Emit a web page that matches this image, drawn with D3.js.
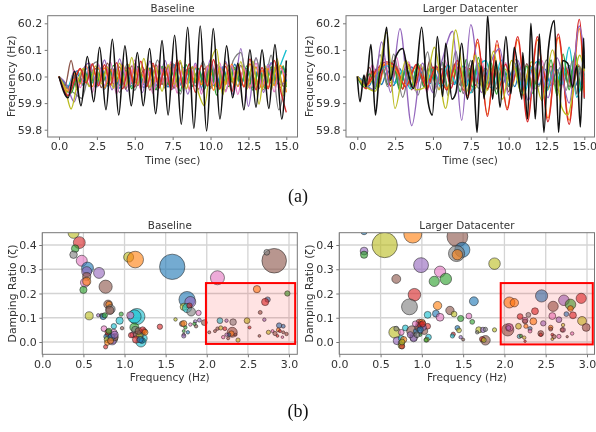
<!DOCTYPE html>
<html>
<head>
<meta charset="utf-8">
<script src="https://cdn.jsdelivr.net/npm/d3@7"></script>
<style>
  html, body { margin: 0; padding: 0; background: #fff; }
  svg { display: block; filter: blur(0.55px); }
  text { font-family: "DejaVu Sans", sans-serif; fill: #333; }
</style>
</head>
<body>
<script>
const tab10 = ['#1f77b4', '#ff7f0e', '#2ca02c', '#d62728', '#9467bd', '#8c564b', '#e377c2', '#7f7f7f', '#bcbd22', '#17becf'];

// time tick labels / shared sample times (sec)
const timeTicks = [0, 2.5, 5, 7.5, 10, 12.5, 15];
const freqTicks = [59.8, 59.9, 60, 60.1, 60.2];
const modeFreqTicks = [0, 0.5, 1, 1.5, 2, 2.5, 3];
const dampTicks = [0, 0.1, 0.2, 0.3, 0.4];

const gridA = [0, .4, .8, 1.2, 1.6, 2, 2.4, 2.8, 3.2, 3.6, 4, 4.4, 4.8, 5.2, 5.6, 6, 6.4, 6.8, 7.2, 7.6, 8, 8.4, 8.8, 9.2, 9.6, 10, 10.4, 10.8, 11.2, 11.6, 12, 12.4, 12.8, 13.2, 13.6, 14, 14.4, 14.8, 15];
const gridB = [0, .6, 1, 1.4, 1.8, 2.2, 2.6, 3, 3.4, 3.8, 4.2, 4.6, 5, 5.4, 5.8, 6.2, 6.6, 7, 7.4, 7.8, 8.2, 8.6, 9, 9.4, 9.8, 10.2, 10.6, 11, 11.4, 11.8, 12.2, 12.6, 13, 13.4, 13.8, 14.2, 14.6, 15];
const gridC = [0, .5, 1, 1.5, 2, 2.5, 3, 3.5, 4, 4.5, 5, 5.5, 6, 6.5, 7, 7.5, 8, 8.5, 9, 9.5, 10, 10.5, 11, 11.5, 12, 12.5, 13, 13.5, 14, 14.5, 15];

// frequency deviations in mHz around 60 Hz
const baselineBlue = [0, -42, -30, 22, -34, 38, -26, 30, -36, 28, -32, 34, -26, 38, -30, 24, -34, 30, -28, 36, -32, 26, -38, 30, -24, 34, -30, 36, -26, 28, -34, 30, -24, 32, -36, 28, -22, 34, -18];
const baselineOrange = [0, -55, 12, -28, 40, -38, 32, -42, 26, -20, 44, -36, 30, -44, 38, -28, 42, -34, 48, -40, 30, -46, 36, -30, 40, -52, 34, -30, 46, -38, 28, -42, 36, -48, 30, -34, 42, -60];
const baselineGreen = [0, -50, -62, -5, -30, 25, -40, 20, -28, 42, -35, 24, -46, 36, -22, 30, -50, 38, -30, 22, -55, 44, -36, 30, -48, 50, -70, 26, -38, 34, -30, 40, -52, 28, -44, 36, -28, 40, -40];
const baselineRed = [0, -72, -20, 30, -25, 48, -35, 44, -30, 52, -46, 34, -40, 58, -38, 50, -44, 36, -50, 62, -42, 48, -60, 42, -36, 64, -48, 38, -58, 44, -40, 66, -50, 34, -46, 60, -48, -135];
const baselinePurple = [0, -30, -95, 15, 50, -40, 62, -50, 66, -56, 48, -60, 58, -52, 60, -48, 52, -66, 50, -58, 64, -44, 56, -70, 105, -112, 70, -60, 50, -30, -20];
const baselineBrown = [0, -34, 60, -52, 28, -36, 30, -42, 50, -28, 36, -48, 40, -34, 28, -52, 44, -30, 38, -44, 52, -26, 34, -48, 30, -40, 46, -52, 24, -36, 42, -30, 38, -46, 32, -26, 44, -38, 10];
const baselinePink = [0, -68, 24, -42, 36, -60, 46, -32, 54, -66, 40, -44, 62, -50, 34, -64, 48, -38, 56, -62, 30, -52, 44, -66, 38, -30, 52, -58, 42, -68, 34, -46, 50, -36, 44, -58, 30, -10];
const baselineGray = [0, -40, -62, -82, 20, 55, -48, 30, -60, 48, -52, 36, -40, 62, -44, 50, -66, 30, -36, 58, -46, 34, -52, 60, 90, -40, 70, -50, 80, -125, 30];
const baselineOlive = [0, -45, -122, -30, 30, -38, 40, -28, 36, -44, 50, -36, 72, -30, 68, -40, 34, -56, 44, -30, 60, -46, 38, -60, -110, 50, 102, -70, 42, -36, 56, -48, 58, -104, 40, -50, 66, -72, -20];
const baselineCyan = [0, -36, 16, -20, 30, -24, 28, -36, 22, -30, 36, -26, 32, -40, 24, -28, 40, -32, 26, -38, 34, -24, 30, -42, 28, -34, 38, -22, 30, -36, 26, -28, 36, -40, 46, -30, 40, 100];
const baselineBlue2 = [0, -25, -48, 8, -18, 18, -32, 34, -20, 26, -44, 20, -36, 28, -42, 32, -20, 24, -40, 44, -26, 18, -34, 28, -46, 22, -38, 30, -24, 46, -30, 22, -42, 26, -34, 52, -24, 30, -30];
const baselineOrange2 = [0, -48, -8, 26, -16, 24, -12, 32, -36, 20, -30, 44, -24, 16, -38, 42, -22, 18, -34, 50, -28, 32, -22, 40, -34, 26, -44, 50, -20, 28, -36, 48, -28, 22, -40, 34, -42, 22];
const baselineBlack = [0, -80, 20, -110, 75, -95, 110, -125, 140, -145, 115, -110, 90, -110, 105, -140, 135, -145, 155, -180, 185, -195, 190, -205, 180, -160, 115, -80, 50, -125, 100, -115, 100, -120, 120, -160, 60];
const baselineBlackTimes = [0, .6, 1.03, 1.45, 1.87, 2.29, 2.68, 3.1, 3.52, 3.94, 4.35, 4.77, 5.17, 5.56, 5.98, 6.38, 6.8, 7.2, 7.63, 8.07, 8.49, 8.9, 9.32, 9.74, 10.18, 10.62, 11.06, 11.46, 11.8, 12.2, 12.6, 13, 13.4, 13.85, 14.25, 14.7, 15];

const largerBlue = [0, -24, -34, 28, -30, 22, -34, 30, -26, 36, -22, 30, -28, 34, -36, 24, -30, 28, -36, 32, -26, 30, -42, 34, -28, 24, -38, 30, -26, 40, -32, 28, -34, 26, -30, 42, -36, 26, 5];
const largerGreen = [0, -38, 10, -46, 52, -30, 42, -52, 26, -34, 48, -40, 36, -30, 54, -46, 30, -58, 64, -40, 72, -50, 60, -66, 44, -38, 52, -60, 40, -64, 58, -44, 62, -72, 84, -50, 90, -56, 10];
const largerRed2 = [0, -46, 22, -30, 44, -36, 30, -48, 46, -38, 32, -50, 36, -28, 40, -44, 34, -52, 30, -34, 42, -46, 28, -38, 46, -30, 34, -50, 42, -28, 36, -44, 48, -32, 30, -46, 38, -24];
const largerBrown = [0, -30, 34, -40, 54, -28, 60, -44, 36, -50, 48, -36, 62, -40, 30, -52, 46, -34, 38, -60, 50, -38, 34, -46, 42, -58, 36, -28, 48, -44, 56, -36, 40, -52, 32, -38, 46, -30, -5];
const largerPink = [0, -32, 44, -24, 68, -38, 72, -46, 56, -52, 40, -60, 34, -48, 60, -42, 38, -62, 44, -34, 66, -50, 30, -44, 52, -36, 40, -56, 34, -46, 60, -30, 42, -58, 36, -26, 44, -42];
const largerGray = [0, -25, -50, 82, -38, 84, -78, 30, -70, 92, -78, 50, -72, 96, -64, 60, -44, 30, -56, 40, -36, 66, -48, 28, -38, 62, -30, 34, -52, 58, -66, 40, -30, 46, -28, 80, -85];
const largerGrayTimes = [0, .5, 1, 1.5, 2, 2.4, 3, 3.5, 4, 4.65, 5.1, 5.6, 6, 6.5, 7, 7.5, 8, 8.5, 9, 9.5, 10, 10.5, 11, 11.5, 12, 12.5, 13, 13.4, 13.8, 14.2, 14.5, 14.7, 14.85, 14.9, 14.95, 14.98, 15];
const largerOlive2 = [0, -35, 18, -42, 36, -24, 40, -46, 32, -26, 44, -38, 30, -50, 38, -28, 46, -36, 24, -44, 34, -52, 42, -30, 28, -40, 36, -46, 44, -24, 38, -50, 30, -36, 26, -44, 40, 8];
const largerCyan = [0, -20, -50, 18, 40, -26, 22, -46, 34, -30, 26, -38, 44, -28, 40, -62, 36, 60, -48, 62, -30, 40, -70, 32, 58, -55, 36, -30, 110, -78, 64];
const largerRedTimes = [0, .6, 1.2, 1.9, 2.5, 3.2, 3.9, 4.6, 5.2, 5.9, 6.6, 7.3, 7.95, 8.6, 9.23, 9.9, 10.6, 11.25, 11.9, 12.6, 13.28, 14, 14.67, 15];
const largerRed = [0, -30, 20, 55, 40, -40, 45, -45, 40, -50, 60, -80, 140, -150, 135, -125, 150, -170, 150, -170, 160, -180, 215, -80];
const largerOrange = [0, -36, 12, 48, 28, -34, 38, -38, 30, -44, 50, -72, 128, -142, 120, -118, 138, -158, 138, -156, 146, -165, 180, -60];
const largerPurpleTimes = [0, .5, 1.1, 1.6, 2.2, 2.82, 3.6, 4.3, 5, 5.6, 6.3, 6.9, 7.5, 8.2, 8.8, 9.4, 10, 10.6, 11.3, 12, 12.6, 13.2, 14, 14.67, 15];
const largerPurple = [0, -30, -50, 130, -60, 180, -185, 50, -60, 60, 170, -165, 195, -60, 50, 105, -70, 60, -90, 65, -80, 70, -100, 190, 85];
const largerOliveTimes = [0, .6, 1.2, 1.94, 2.49, 3.2, 3.9, 4.5, 5.09, 5.84, 6.5, 7.2, 7.8, 8.4, 9, 9.6, 10.2, 10.9, 11.5, 12.2, 12.9, 13.5, 13.9, 14.7, 15];
const largerOlive = [0, -40, -55, 165, -120, 60, -50, -40, 110, -120, 175, -60, 80, -70, 95, -85, 60, -70, 55, -90, 100, -115, -145, 80, 20];
const largerBlack = [0, -95, 5, -40, 120, -145, 0, 40, 185, -15, 75, 105, 20, -45, 0, 185, -85, -145, 150, -75, 125, -85, -60, 125, -85, 60, -210, 40, -85, 230, -85, 60, -115, 150, -65, 110, -85, 90, -160, 200, -160, 160, -210, 100, 210, -210, 60, 50, -40, 40, -190, 145, 30];
const largerBlackTimes = [0, .18, .44, .57, .9, 1.2, 1.45, 1.63, 1.94, 2.18, 2.55, 3, 3.33, 3.7, 3.88, 4.25, 4.65, 4.96, 5.29, 5.64, 5.84, 6.26, 6.52, 6.9, 7.27, 7.62, 7.91, 8.17, 8.39, 8.61, 8.94, 9.16, 9.43, 9.82, 10.15, 10.37, 10.88, 10.93, 11.25, 11.47, 11.76, 12.03, 12.33, 12.62, 13.02, 13.3, 13.57, 13.9, 14.23, 14.5, 14.74, 14.96, 15];

// oscillation modes of the Baseline panel
const baselineModeFreq = [
  .38, .45, .40, .38, .48, .55, .54, .54, .52, .54,
  .50, .69, .77, .57, 1.05, 1.13, 1.58, 2.13, 2.82, 2.73,
  1.76, 1.80, 1.72, 1.76, 1.79, 1.81, 1.90, 1.15, 1.12, 1.07,
  .80, .81, .83, .82, .96, .94, .87, .97, .68, .72,
  .74, .76, .75, .87, .80, .78, .79, .79, .77, .86,
  .85, .88, 1.22, 1.20, 1.21, 1.12, 1.13, 1.10, 1.15, 1.20,
  1.24, 1.18, 1.08, 1.43, 1.62, 1.70, 1.72, 1.74, 1.72, 1.77,
  1.72, 1.72, 1.80, 1.87, 1.86, 1.85, 1.91, 1.97, 2.16, 2.24,
  2.32, 2.49, 2.61, 2.98, 2.74, 2.71, 2.65, 2.70, 2.52, 2.31,
  2.30, 2.27, 2.35, 2.38, 2.13, 2.10, 2.17, 2.03, 2.22, 2.24,
  2.20, 2.26, 2.75, 2.64, 2.88, 2.93, 2.87, 2.89, 2.80, 2.83,
  2.86, 2.92, 2.97, 2.93,
  .80, .84, .88, .83, .81, 1.17, 1.22, 1.25, 1.14, 1.19
];
const baselineModeDamp = [
  .45, .41, .385, .36, .335, .305, .29, .27, .245, .25,
  .215, .285, .228, .108, .35, .34, .31, .265, .335, .37,
  .175, .165, .145, .14, .15, .125, .12, .105, .105, .11,
  .155, .155, .135, .13, .115, .088, .065, .057, .11, .11,
  .105, .11, .055, .04, .03, .022, .01, -.003, -.02, .012,
  .005, .02, .015, 0, .005, .06, .05, .03, .03, .035,
  .045, .025, .028, .063, .093, .075, .076, .06, .045, .04,
  .03, .025, .072, .065, .085, .075, .09, .08, .088, .088,
  .082, .088, .218, .2, .175, .165, .122, .092, .06, .04,
  .035, .03, .03, .008, .055, .045, .058, .04, .055, .03,
  .02, .015, .04, .025, .068, .065, .05, .045, .045, .035,
  .025, .02, .033, .04,
  .04, .02, .03, .005, .045, .045, .05, .04, .01, .01
];
const baselineModeSize = [
  25, 30, 10, 10, 25, 30, 20, 12, 16, 12,
  9, 25, 38, 12, 20, 64, 160, 44, 150, 5,
  60, 25, 9, 16, 4, 14, 4, 60, 40, 9,
  14, 6, 16, 12, 2, 9, 4, 1, 1, 1.5,
  6, 4, 5, 6, 4, 4, 6, 4, 2, 16,
  12, 9, 16, 20, 4, 16, 9, 4, 9, 9,
  4, 6, 4, 4, 1, 4, 6, 1, .6, 1,
  .6, 2, 1, 1, 1, 1, 1.5, 5, 5, 1,
  7, 5, 9, 4, 4, 9, 1.5, 1, .6, 20,
  4, 1.5, .6, 2, 1, .6, 2, .6, 1.5, 1,
  1, .6, 2, .4, 4, 1.5, 1.5, .6, .6, 2,
  .4, .3, 1, .6,
  6, 8, 9, 6, 5, 8, 6, 5, 9, 6
];
const baselineModeHue = [
  8, 3, 2, 7, 6, 0, 4, 5, 6, 1,
  2, 4, 5, 8, 8, 1, 0, 6, 5, 7,
  0, 4, 8, 9, 3, 7, 6, 9, 9, 6,
  5, 1, 7, 5, 2, 9, 9, 5, 4, 5,
  0, 2, 6, 6, 5, 0, 8, 1, 3, 7,
  4, 5, 9, 9, 0, 2, 7, 6, 5, 7,
  3, 8, 3, 3, 8, 5, 1, 2, 2, 0,
  5, 4, 6, 5, 4, 2, 4, 5, 9, 4,
  7, 8, 1, 2, 0, 3, 5, 4, 3, 5,
  1, 0, 5, 8, 5, 5, 8, 5, 3, 4,
  6, 5, 8, 5, 0, 0, 1, 3, 6, 5,
  3, 6, 5, 5,
  3, 0, 4, 1, 2, 5, 3, 1, 3, 0
];

// oscillation modes of the Larger Datacenter panel
const largerModeFreq = [
  .30, .55, .89, 1.43, 1.49, 1.42, 1.43, .30, .30, .99,
  1.22, 1.29, 1.15, .69, 1.88, .91, .85, 1.19, 1.63, 1.07,
  1.17, 1.22, 1.34, 1.39, 1.47, 1.57, 1.61, 1.43, 1.45, 1.38,
  1.37, 1.47, 1.50, 1.69, 1.67, 1.74, 1.77, 1.88, 1.77, 1.73,
  1.75, .67, .69, .70, .75, .80, .75, .75, .75, .76,
  .88, .90, .90, .96, .97, 1.00, .97, .93, .98, 1.03,
  1.07, 1.08, 1.06, 1.05, .98, 2.06, 2.12, 2.45, 2.93, 2.72,
  2.80, 2.59, 2.80, 2.37, 2.83, 2.19, 2.75, 2.58, 2.66, 2.94,
  2.99, 2.35, 2.47, 2.25, 2.25, 2.29, 2.04, 2.06, 2.05, 2.17,
  2.26, 2.31, 2.31, 2.44, 2.56, 2.56, 2.18, 2.20, 2.24, 2.25,
  2.58, 2.60, 2.66, 2.71, 2.70, 2.71, 2.58, 2.76, 2.82, 2.44,
  .95, .99, 1.02, .92, .78, .76, .98, 1.01, .94, .86
];
const largerModeDamp = [
  .455, .40, .445, .435, .38, .365, .36, .375, .36, .317,
  .29, .26, .25, .26, .323, .195, .145, .15, .168, .112,
  .117, .102, .13, .115, .097, .107, .083, .058, .048, .032,
  .025, .02, .01, .05, .04, .05, .052, .05, .007, .012,
  .008, .04, .055, .005, .04, .058, .015, -.005, -.015, -.018,
  .045, .02, .015, .07, .08, .08, .065, .045, .04, .045,
  .065, .02, .01, .008, .03, .163, .162, .19, .18, .172,
  .155, .147, .138, .127, .11, .105, .115, .107, .092, .087,
  .06, .085, .077, .09, .085, .112, .05, .06, .058, .065,
  .065, .055, .045, .035, .06, .053, .023, .025, .018, .003,
  .03, .022, .023, .05, .05, .07, .012, .022, .035, .03,
  .06, .07, .06, .075, .01, 0, .05, .075, .03, .03
];
const largerModeSize = [
  6, 160, 76, 105, 52, 60, 22, 11, 9, 50,
  26, 28, 21, 15, 28, 34, 58, 13, 15, 8,
  8, 11, 13, 5, 6, 5, 3, 3, 3, 2,
  2, 1, .6, 6, 1, 4, 2, 2, 18, 4,
  3, 28, 3, 11, 5, 5, 5, 6, 6, 4,
  23, 11, 8, 5, 8, 8, 4, 4, 2, 8,
  5, 5, 3, 2, 1, 25, 13, 32, 21, 23,
  23, 21, 5, 8, 8, 5, 3, 8, 5, 15,
  11, 8, 4, 5, 3, 3, 32, 11, 3, 5,
  2, 2, 1.5, 5, 2.5, 1.5, 2, 1, 1, .2,
  .5, 2, 2, 3, 2, 1, .5, .2, 1, 1,
  6, 8, 5, 5, 6, 5, 6, 6, 5, 6
];
const largerModeHue = [
  0, 8, 1, 5, 0, 7, 1, 4, 2, 4,
  6, 2, 2, 5, 8, 3, 7, 1, 0, 9,
  0, 6, 5, 8, 2, 6, 2, 0, 8, 3,
  9, 4, 5, 8, 7, 4, 7, 8, 5, 3,
  8, 8, 7, 4, 6, 9, 9, 7, 8, 3,
  5, 7, 4, 3, 3, 1, 4, 0, 6, 5,
  3, 9, 8, 2, 2, 1, 1, 0, 3, 4,
  2, 5, 1, 3, 3, 3, 0, 6, 4, 8,
  5, 1, 4, 6, 5, 7, 5, 6, 4, 8,
  1, 0, 6, 5, 1, 5, 9, 2, 8, 3,
  3, 5, 6, 6, 5, 8, 8, 5, 6, 3,
  5, 3, 4, 6, 1, 8, 0, 3, 7, 4
];

const baselineTraces = [
  [gridB, baselineCyan], [gridA, baselineBlue], [gridA, baselineBlue2], [gridB, baselineOrange2],
  [gridC, baselinePurple], [gridC, baselineGray], [gridA, baselineBrown], [gridA, baselineGreen],
  [gridB, baselineOrange], [gridB, baselinePink], [gridA, baselineOlive], [gridB, baselineRed],
];
const baselineTraceHues = [9, 0, 0, 1, 4, 7, 5, 2, 1, 6, 8, 3];

const largerTraces = [
  [gridA, largerBlue], [gridB, largerPink], [gridA, largerBrown], [gridB, largerOlive2],
  [gridB, largerRed2], [gridC, largerCyan], [gridA, largerGreen], [largerGrayTimes, largerGray],
  [largerRedTimes, largerOrange], [largerRedTimes, largerRed], [largerPurpleTimes, largerPurple], [largerOliveTimes, largerOlive],
];
const largerTraceHues = [0, 6, 5, 8, 3, 9, 2, 7, 1, 3, 4, 8];

const width = 596;
const height = 432;

const svg = d3.select('body').append('svg')
  .attr('width', width)
  .attr('height', height);

const drawFrame = (g, box, x, y, xTicks, yTicks, xLabel, yLabel, title, withGrid, labelX) => {
  if (withGrid) {
    g.append('g').selectAll('line').data(xTicks).enter().append('line')
      .attr('x1', (d) => x(d)).attr('x2', (d) => x(d))
      .attr('y1', box.top).attr('y2', box.bottom)
      .style('stroke', '#d4d4d4').style('stroke-width', 1.3);
    g.append('g').selectAll('line').data(yTicks).enter().append('line')
      .attr('x1', box.left).attr('x2', box.right)
      .attr('y1', (d) => y(d)).attr('y2', (d) => y(d))
      .style('stroke', '#d4d4d4').style('stroke-width', 1.3);
  }

  const xAxis = d3.axisBottom(x).tickValues(xTicks).tickFormat(d3.format('.1f')).tickSize(3).tickPadding(2.5);
  const yAxis = d3.axisLeft(y).tickValues(yTicks).tickFormat(d3.format('.1f')).tickSize(3).tickPadding(2.5);

  const xg = g.append('g').attr('transform', `translate(0,${box.bottom})`).call(xAxis);
  const yg = g.append('g').attr('transform', `translate(${box.left},0)`).call(yAxis);
  [xg, yg].forEach((a) => {
    a.select('.domain').remove();
    a.selectAll('line').style('stroke', '#555').style('stroke-width', 0.8);
    a.selectAll('text').style('font-size', '11px').style('font-family', '"DejaVu Sans", sans-serif').style('fill', '#333');
  });

  g.append('text')
    .attr('x', (box.left + box.right) / 2).attr('y', box.top - 4)
    .style('text-anchor', 'middle').style('font-size', '10.4px')
    .text(title);
  g.append('text')
    .attr('x', (box.left + box.right) / 2).attr('y', box.bottom + 27)
    .style('text-anchor', 'middle').style('font-size', '10.6px')
    .text(xLabel);
  g.append('text')
    .attr('transform', `translate(${labelX},${(box.top + box.bottom) / 2}) rotate(-90)`)
    .attr('dy', '.35em')
    .style('text-anchor', 'middle').style('font-size', '10.8px')
    .text(yLabel);
};

const drawSpines = (g, box) => {
  g.append('rect')
    .attr('x', box.left).attr('y', box.top)
    .attr('width', box.right - box.left).attr('height', box.bottom - box.top)
    .style('fill', 'none').style('stroke', '#777').style('stroke-width', 1);
};

const drawTracePanel = (id, box, xZero, xEnd, traces, hues, blackTimes, blackValues, title, labelX) => {
  const pxPerSec = (xEnd - xZero) / 15;
  const x = d3.scaleLinear().domain([(box.left - xZero) / pxPerSec, (box.right - xZero) / pxPerSec]).range([box.left, box.right]);
  const y = d3.scaleLinear().domain([59.8, 60.2]).range([129.7, 23.3]);
  const g = svg.append('g');

  drawFrame(g, box, x, y, timeTicks, freqTicks, 'Time (sec)', 'Frequency (Hz)', title, false, labelX);

  g.append('clipPath').attr('id', id).append('rect')
    .attr('x', box.left).attr('y', box.top)
    .attr('width', box.right - box.left).attr('height', box.bottom - box.top);

  const line = d3.line()
    .x((d) => x(d[0]))
    .y((d) => y(60 + d[1] / 1000))
    .curve(d3.curveMonotoneX);

  const plot = g.append('g').attr('clip-path', `url(#${id})`);
  plot.selectAll('path.trace')
    .data(traces)
    .enter().append('path')
    .attr('class', 'trace')
    .attr('d', (d) => line(d3.zip(d[0], d[1])))
    .style('fill', 'none')
    .style('stroke', (d, i) => tab10[hues[i]])
    .style('stroke-width', 1.35);
  plot.append('path')
    .attr('d', line(d3.zip(blackTimes, blackValues)))
    .style('fill', 'none')
    .style('stroke', '#111')
    .style('stroke-width', 1.6);

  drawSpines(g, box);
};

const drawModePanel = (id, box, xThree, freqs, damps, sizes, hues, region, title, labelX) => {
  const pxPerHz = (xThree - box.left) / 3;
  const x = d3.scaleLinear().domain([0, (box.right - box.left) / pxPerHz]).range([box.left, box.right]);
  const y = d3.scaleLinear().domain([0, 0.4]).range([342, 245]);
  const r = d3.scaleSqrt().domain([0, 169]).range([0.8, 13]);
  const g = svg.append('g');

  drawFrame(g, box, x, y, modeFreqTicks, dampTicks, 'Frequency (Hz)', 'Damping Ratio (ζ)', title, true, labelX);

  g.append('clipPath').attr('id', id).append('rect')
    .attr('x', box.left).attr('y', box.top)
    .attr('width', box.right - box.left).attr('height', box.bottom - box.top);

  g.append('g').attr('clip-path', `url(#${id})`)
    .selectAll('circle')
    .data(freqs)
    .enter().append('circle')
    .attr('cx', (d) => x(d))
    .attr('cy', (d, i) => y(damps[i]))
    .attr('r', (d, i) => r(sizes[i]))
    .style('fill', (d, i) => tab10[hues[i]])
    .style('fill-opacity', 0.62)
    .style('stroke', '#222')
    .style('stroke-opacity', 0.6)
    .style('stroke-width', 0.9);

  g.append('rect')
    .attr('x', x(region[0])).attr('y', y(region[3]))
    .attr('width', x(region[1]) - x(region[0]))
    .attr('height', y(region[2]) - y(region[3]))
    .style('fill', 'rgba(255,0,0,0.11)')
    .style('stroke', '#f00')
    .style('stroke-width', 2);

  drawSpines(g, box);
};

const baselineRegion = [1.99, 3.075, -0.008, 0.243];
const largerRegion = [1.955, 3.07, -0.01, 0.243];

drawTracePanel('clip-a1', { left: 47.7, right: 297.5, top: 15.7, bottom: 137 }, 59, 286.3, baselineTraces, baselineTraceHues, baselineBlackTimes, baselineBlack, 'Baseline', 11);
drawTracePanel('clip-a2', { left: 346, right: 594.5, top: 15.7, bottom: 137 }, 357.3, 584.3, largerTraces, largerTraceHues, largerBlackTimes, largerBlack, 'Larger Datacenter', 309);
drawModePanel('clip-b1', { left: 42.3, right: 297.3, top: 232.7, bottom: 354.3 }, 289, baselineModeFreq, baselineModeDamp, baselineModeSize, baselineModeHue, baselineRegion, 'Baseline', 12);
drawModePanel('clip-b2', { left: 339.3, right: 594.5, top: 232.7, bottom: 354.3 }, 587, largerModeFreq, largerModeDamp, largerModeSize, largerModeHue, largerRegion, 'Larger Datacenter', 309);

svg.append('text').attr('x', 298).attr('y', 202).style('text-anchor', 'middle')
  .style('font-family', '"Liberation Serif", serif').style('font-size', '18px').style('fill', '#111').text('(a)');
svg.append('text').attr('x', 298).attr('y', 416.5).style('text-anchor', 'middle')
  .style('font-family', '"Liberation Serif", serif').style('font-size', '18px').style('fill', '#111').text('(b)');
</script>
</body>
</html>
